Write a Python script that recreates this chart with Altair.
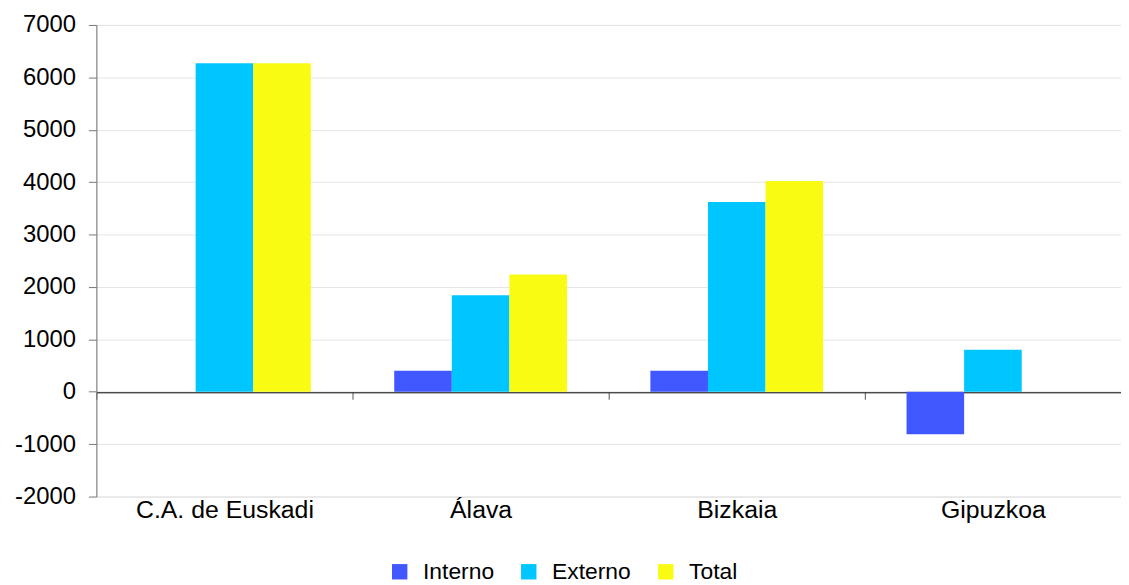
import altair as alt
import pandas as pd

categories = ["C.A. de Euskadi", "Álava", "Bizkaia", "Gipuzkoa"]
series = ["Interno", "Externo", "Total"]
interno = [0, 400, 400, -810]
externo = [6270, 1840, 3620, 800]
total = [6270, 2240, 4020, 0]
colors = ["#4157FF", "#00C6FF", "#F9FC12"]

rows = []
for i, c in enumerate(categories):
    for s, vals in zip(series, [interno, externo, total]):
        rows.append({"cat": c, "serie": s, "valor": vals[i]})
df = pd.DataFrame(rows)

FONT = "Liberation Sans"

bars = alt.Chart(df).mark_bar().encode(
    x=alt.X("cat:N", sort=categories, title=None,
            scale=alt.Scale(paddingInner=0, paddingOuter=0),
            axis=alt.Axis(labelAngle=0, offset=-105, domainColor="#000000",
                          domainWidth=1, tickColor="#555555", tickSize=7,
                          tickBand="extent", labelPadding=99,
                          labelFontSize=25, labelFont=FONT, labelColor="#000000",
                          labelBaseline="top", grid=False)),
    xOffset=alt.XOffset("serie:N", sort=series,
                        scale=alt.Scale(paddingInner=0, paddingOuter=0.724)),
    y=alt.Y("valor:Q", title=None,
            scale=alt.Scale(domain=[-2000, 7000], nice=False),
            axis=alt.Axis(values=list(range(-2000, 7001, 1000)),
                          labelExpr="toString(datum.value)",
                          domainColor="#777777", tickColor="#777777", tickSize=8,
                          labelPadding=13, labelFontSize=24, labelFont=FONT,
                          labelColor="#000000", gridColor="#E4E4E4", gridWidth=1)),
    color=alt.Color("serie:N", sort=series,
                    scale=alt.Scale(domain=series, range=colors),
                    legend=alt.Legend(title=None, orient="none", direction="horizontal",
                                      legendX=294, legendY=539,
                                      symbolType="square", symbolSize=240,
                                      symbolStrokeWidth=0, symbolOpacity=1,
                                      labelFontSize=23, labelFont=FONT,
                                      labelColor="#000000", labelOffset=12,
                                      columnPadding=23)),
)

chart = bars.properties(
    width=1032, height=475,
    autosize=alt.AutoSizeParams(type="none"),
    padding={"left": 89, "top": 15, "right": 0, "bottom": 87},
).configure_view(stroke=None).configure(background="#FFFFFF")

chart.save("out.html", embed_options={"renderer": "svg", "actions": False})
